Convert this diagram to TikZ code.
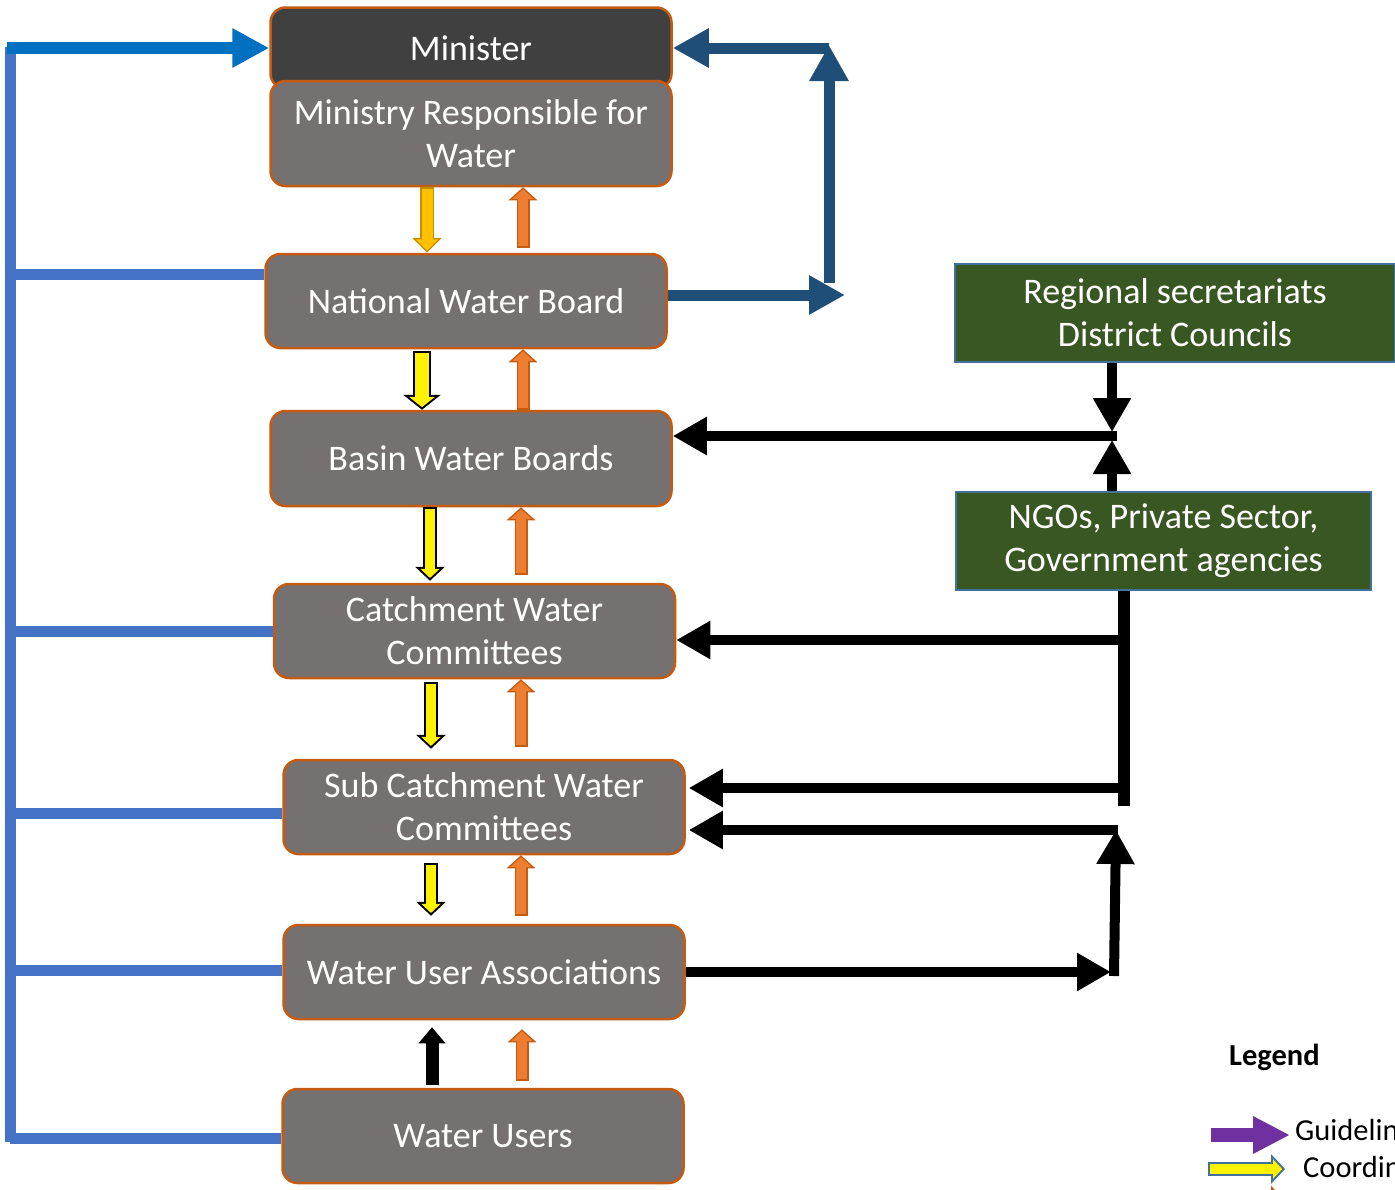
\documentclass[tikz,border=0pt]{standalone}
\usepackage{fontspec}
\setmainfont{Carlito}
\usetikzlibrary{arrows.meta}

\definecolor{boxgrey}{HTML}{767171}
\definecolor{ministergrey}{HTML}{404040}
\definecolor{boxline}{HTML}{C55A11}
\definecolor{stakegreen}{HTML}{385723}
\definecolor{stakeline}{HTML}{41719C}
\definecolor{busblue}{HTML}{4472C4}
\definecolor{topblue}{HTML}{0070C0}
\definecolor{loopblue}{HTML}{1F4E79}
\definecolor{goldfill}{HTML}{FFC000}
\definecolor{goldline}{HTML}{BF9000}
\definecolor{reportfill}{HTML}{ED7D31}
\definecolor{guidepurple}{HTML}{7030A0}

\newcommand{\tierfont}{\fontsize{36}{43}\selectfont}
\newcommand{\legendfont}{\fontsize{30.5}{36}\selectfont}

\begin{document}
\begin{tikzpicture}[x=1pt, y=-1pt,
	tier/.style={draw=boxline, line width=2.5pt, rounded corners=15pt, fill=boxgrey, text=white, font=\tierfont, align=center, inner sep=0pt, minimum width=401pt, minimum height=94pt},
	stake/.style={draw=stakeline, line width=2pt, fill=stakegreen, text=white, font=\tierfont, align=center, inner sep=0pt, minimum height=98pt},
	busline/.style={draw=busblue, line width=11pt},
	toparrow/.style={draw=topblue, line width=12pt, -{Triangle[width=37pt,length=37pt]}},
	looparrow/.style={draw=loopblue, line width=11pt, -{Triangle[width=37pt,length=36pt]}},
	feed/.style={draw=black, line width=10pt, -{Triangle[width=36pt,length=34pt]}},
	userarrow/.style={draw=black, line width=13pt, -{Triangle[width=26pt,length=16pt]}},
	goldarrow/.style={preaction={draw=goldline, line width=14pt, shorten <=0pt, shorten >=0pt, -{Triangle[width=29pt,length=15pt]}},
		draw=goldfill, line width=11pt, shorten <=1.5pt, shorten >=2.2pt, -{Triangle[width=22pt,length=11.3pt]}},
	coordarrow/.style={preaction={draw=#1, line width=14pt, shorten <=0pt, shorten >=0pt, -{Triangle[width=29pt,length=14pt]}},
		draw=yellow, line width=10pt, shorten <=2pt, shorten >=2.8pt, -{Triangle[width=19pt,length=9.2pt]}},
	coordarrow/.default=black,
	coordbig/.style={preaction={draw=black, line width=18pt, shorten <=0pt, shorten >=0pt, -{Triangle[width=37pt,length=15pt]}},
		draw=yellow, line width=14pt, shorten <=2pt, shorten >=2.6pt, -{Triangle[width=25.7pt,length=10.4pt]}},
	reportarrow/.style={preaction={draw=boxline, line width=13pt, shorten <=0pt, shorten >=0pt, -{Triangle[width=28pt,length=13pt]}},
		draw=reportfill, line width=10pt, shorten <=1.5pt, shorten >=2pt, -{Triangle[width=20.4pt,length=9.5pt]}},
	guidearrow/.style={draw=guidepurple, line width=14pt, -{Triangle[width=35pt,length=37pt]}},
	legtext/.style={font=\legendfont, anchor=base west, inner sep=0pt}
	]
	
	\path[use as bounding box, clip] (0,0) rectangle (1395,1189);
	
	\node[tier, fill=ministergrey, minimum height=81pt] (min) at (471,48) {Minister};
	\node[tier, minimum height=105pt] (mrw) at (471,133.5) {Ministry Responsible for\\Water};
	\node[tier] (nwb) at (466,301) {National Water Board};
	\node[tier, minimum height=95pt] (bwb) at (471,458.5) {Basin Water Boards};
	\node[tier] (cwc) at (474.5,631) {Catchment Water\\Committees};
	\node[tier] (scwc) at (484,807) {Sub Catchment Water\\Committees};
	\node[tier] (wua) at (484,972) {Water User Associations};
	\node[tier] (wu) at (483,1136) {Water Users};
	
	\node[stake, minimum width=440pt] (reg) at (1175,313) {Regional secretariats\\District Councils};
	\node[stake, minimum width=415pt] (ngo) at (1163.5,541) {NGOs, Private Sector,\\Government agencies};
	
	% down the chain and back up
	\draw[goldarrow] ([xshift=-44pt]mrw.south) -- ([xshift=-44pt]mrw.south |- nwb.north);
	\draw[reportarrow] ([xshift=52pt,yshift=5pt]mrw.south |- nwb.north) -- ([xshift=52pt]mrw.south);
	\draw[coordbig] ([xshift=-44pt,yshift=-2pt]nwb.south) -- ([xshift=-44pt]nwb.south |- bwb.north);
	\draw[reportarrow] ([xshift=57pt]nwb.south |- bwb.north) -- ([xshift=57pt]nwb.south);
	\draw[coordarrow] ([xshift=-41pt]bwb.south) -- ([xshift=-41pt,yshift=2pt]bwb.south |- cwc.north);
	\draw[reportarrow] ([xshift=50pt,yshift=8pt]bwb.south |- cwc.north) -- ([xshift=50pt]bwb.south);
	\draw[coordarrow] ([xshift=-43.5pt,yshift=-3pt]cwc.south) -- ([xshift=-43.5pt,yshift=10pt]cwc.south |- scwc.north);
	\draw[reportarrow] ([xshift=46.5pt,yshift=12pt]cwc.south |- scwc.north) -- ([xshift=46.5pt]cwc.south);
	\draw[coordarrow] ([xshift=-53pt,yshift=-8pt]scwc.south) -- ([xshift=-53pt,yshift=8pt]scwc.south |- wua.north);
	\draw[reportarrow] ([xshift=37pt,yshift=8pt]scwc.south |- wua.north) -- ([xshift=37pt]scwc.south);
	\draw[userarrow] ([xshift=-51pt,yshift=3pt]wu.north) -- ([xshift=-51pt,yshift=-7pt]wu.north |- wua.south);
	\draw[reportarrow] ([xshift=39pt,yshift=7pt]wu.north) -- ([xshift=39pt,yshift=-9pt]wu.north |- wua.south);
	
	% left bus
	\coordinate (bustop) at (10,48);
	\coordinate (busbot) at (10,1142);
	\draw[busline] ([yshift=1pt]bustop) -- (busbot);
	\draw[toparrow] ([xshift=-3pt]bustop |- min.west) -- (min.west);
	\foreach \n/\dy in {nwb/27, cwc/0, scwc/-6, wua/2, wu/-2}
		\draw[busline] ([yshift=\dy pt]\n.west) -- ([yshift=\dy pt]\n.west -| bustop);
	
	% board to minister
	\coordinate (loopr) at (845,295);
	\coordinate (loopb) at (829,283);
	\coordinate (loopt) at (829,45);
	\draw[looparrow] ([yshift=6pt]nwb.east) -- (loopr);
	\draw[looparrow] (loopb) -- (loopt);
	\draw[looparrow] (loopt |- min.east) -- (min.east);
	
	% stakeholders
	\coordinate (junc) at (1112,436);
	\draw[feed] (junc |- reg.south) -- ([yshift=4pt]junc);
	\draw[feed] (junc |- ngo.north) -- ([yshift=-4pt]junc);
	\draw[feed] ([xshift=5pt]junc) -- (junc -| bwb.east);
	
	\coordinate (ngobar) at (1124,806);
	\draw[black, line width=12pt] (ngobar |- ngo.south) -- (ngobar);
	\coordinate (tapc) at (1118,640);
	\coordinate (taps) at (1118,788);
	\draw[feed] (tapc) -- (tapc -| cwc.east);
	\draw[feed] (taps) -- ([xshift=3pt]taps -| scwc.east);
	
	\coordinate (wuar) at (1111,972);
	\coordinate (wuaup) at (1116,830);
	\draw[feed] (wua.east) -- (wuar);
	\draw[feed] ([xshift=3pt,yshift=-4pt]wuar) -- (wuaup);
	\draw[feed] ([xshift=2pt]wuaup) -- ([xshift=3pt]wuaup -| scwc.east);
	
	% legend
	\node[legtext, font=\legendfont\bfseries] (legtitle) at (1229,1065) {Legend};
	\node[legtext] (legguide) at (1295,1140) {Guidelines};
	\node[legtext] (legcoord) at (1303,1177) {Coordination};
	\draw[guidearrow] (1211,1135) -- (1290,1135);
	\draw[coordarrow=stakeline] (1208,1169) -- (1285,1169);
	\draw[reportarrow] (1208,1200) -- (1284,1200);
	
\end{tikzpicture}
\end{document}
